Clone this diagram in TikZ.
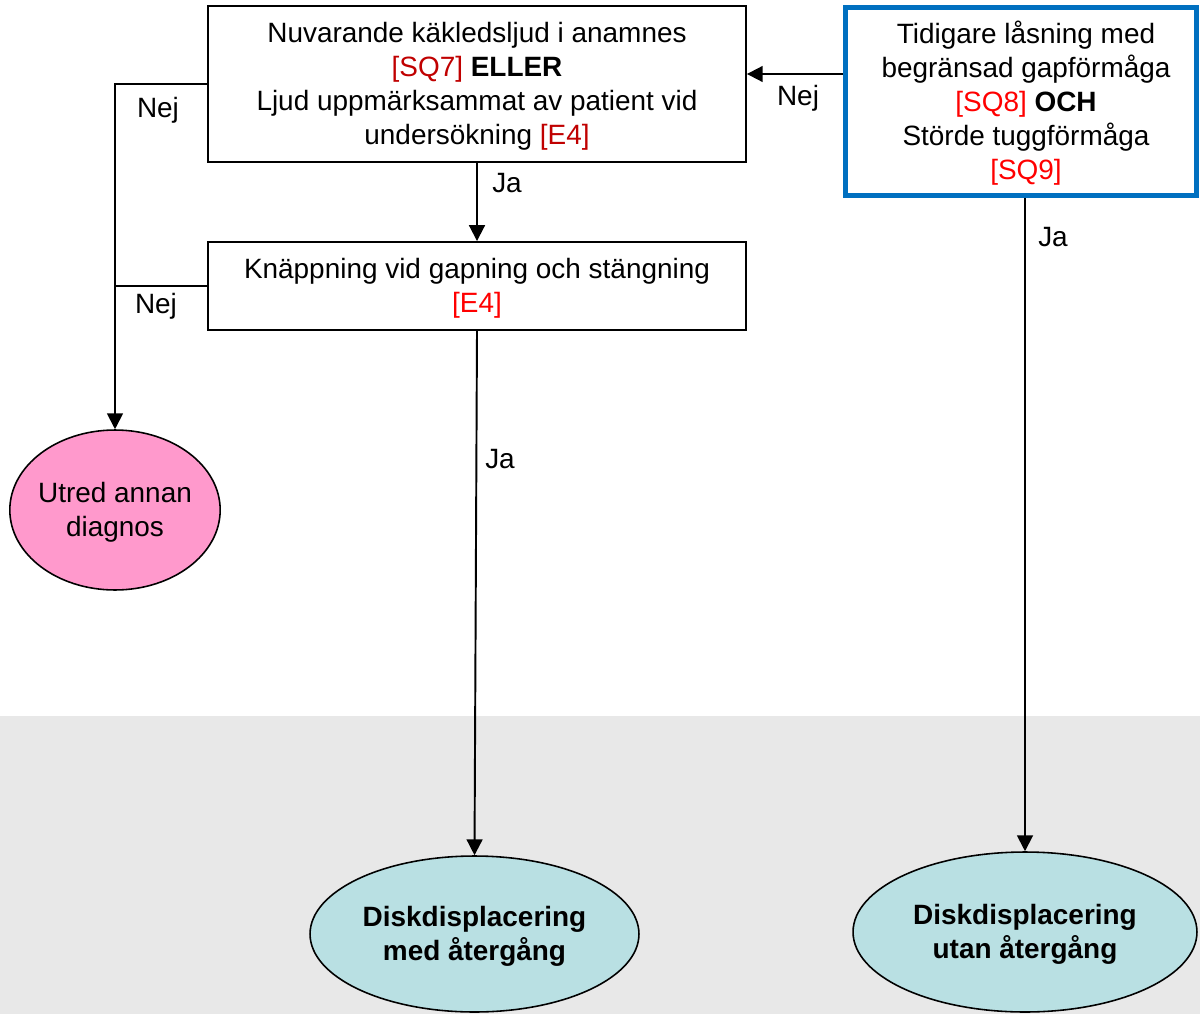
\documentclass[tikz,border=0pt]{standalone}
\usepackage{fontspec}
\setmainfont{Liberation Sans}
\usetikzlibrary{arrows.meta,shapes.geometric}
\definecolor{bgray}{HTML}{E8E8E8}
\definecolor{boxblue}{HTML}{0070C0}
\definecolor{dred}{HTML}{C00000}
\definecolor{bred}{HTML}{FF0000}
\definecolor{pinkfill}{HTML}{FF99CC}
\definecolor{tealfill}{HTML}{B9E0E3}
\newcommand{\lowr}[1]{\raisebox{-0.06cm}[\height][\depth]{\begin{tabular}{@{}c@{}}#1\end{tabular}}}
\tikzset{
  txt/.style={font=\fontsize{15.9}{19.3}\selectfont, align=center},
  qbox/.style={txt, draw=black, line width=1.1pt, fill=white, inner sep=0pt},
  oval/.style={txt, ellipse, draw=black, line width=0.9pt, inner sep=0pt},
  conn/.style={line width=1.1pt, draw=black},
  arr/.style={conn, -{Triangle[length=9pt,width=9pt]}},
  lbl/.style={txt, inner sep=0pt},
}
\begin{document}
\begin{tikzpicture}[x=0.02cm,y=-0.02cm]
\useasboundingbox (0,0) rectangle (1200,1014);
\fill[bgray] (0,716) rectangle (1200,1014);

\node[qbox, minimum width=10.76cm, minimum height=3.12cm] (b1) at (477,84)
  {\lowr{Nuvarande käkledsljud i anamnes\\ \textcolor{dred}{[SQ7]} \textbf{ELLER}\\ Ljud uppmärksammat av patient vid\\ undersökning \textcolor{dred}{[E4]}}};
\node[qbox, draw=boxblue, line width=2.8pt, minimum width=7.02cm, minimum height=3.76cm] (b2) at (1021,101.5)
  {\hspace*{0.2cm}\lowr{Tidigare låsning med\\ begränsad gapförmåga\\ \textcolor{bred}{[SQ8]} \textbf{OCH}\\ Störde tuggförmåga\\ \textcolor{bred}{[SQ9]}}};
\node[qbox, minimum width=10.76cm, minimum height=1.76cm] (b3) at (477,286)
  {\lowr{Knäppning vid gapning och stängning\\ \textcolor{bred}{[E4]}}};

\node[oval, fill=pinkfill, inner xsep=-0.05cm, minimum width=4.18cm, minimum height=3.2cm] (e1) at (115,510)
  {\lowr{Utred annan\\ diagnos}};
\node[oval, fill=tealfill, minimum width=6.58cm, minimum height=3.12cm] (e2) at (474.5,934)
  {\lowr{\bfseries Diskdisplacering\\ \bfseries med återgång}};
\node[oval, fill=tealfill, minimum width=6.88cm, minimum height=3.2cm] (e3) at (1025,932)
  {\lowr{\bfseries Diskdisplacering\\ \bfseries utan återgång}};

\draw[arr] (b2.west |- 0,74) -- (b1.east |- 0,74);
\draw[arr] (b1.south) -- (b3.north);
\draw[arr] (b1.west) -| (e1.north);
\draw[conn] (b3.west) -- (b3.west -| e1.north);
\draw[arr] (b3.south) -- (e2.north);
\draw[arr] (e3.north |- b2.south) -- (e3.north);

\node[lbl] (l1) at (798,98) {Nej};
\node[lbl] (l2) at (507,183) {Ja};
\node[lbl] (l3) at (158,110) {Nej};
\node[lbl] (l4) at (156,306) {Nej};
\node[lbl] (l5) at (500,459) {Ja};
\node[lbl] (l6) at (1053,237) {Ja};
\end{tikzpicture}
\end{document}
